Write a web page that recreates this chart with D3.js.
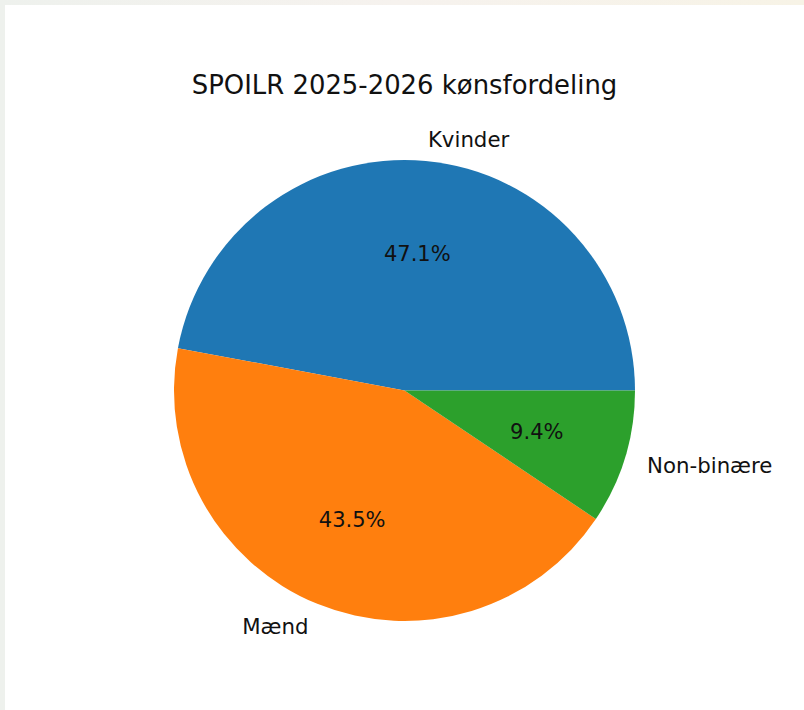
<!DOCTYPE html>
<html>
<head>
<meta charset="utf-8">
<script src="https://cdn.jsdelivr.net/npm/d3@7"></script>
<style>
  html, body { margin: 0; padding: 0; }
  body { width: 804px; height: 710px; overflow: hidden; background: linear-gradient(90deg, #eef1ed 0%, #f6f2ee 50%, #f7f3e6 100%); }
  svg { display: block; }
</style>
</head>
<body>
<svg id="chart" width="804" height="710"></svg>
<script>
const categories = ["Kvinder", "Mænd", "Non-binære"];
const counts = [40, 37, 8];
const colors = ["#1f77b4", "#ff7f0e", "#2ca02c"];
const title = "SPOILR 2025-2026 kønsfordeling";

const svg = d3.select("#chart");
const W = 804, H = 710;
svg.append("rect").attr("x", 5).attr("y", 5).attr("width", W - 5).attr("height", H - 5).attr("fill", "#ffffff");

const cx = 404.5, cy = 390.5, R = 230.5;
const font = "'DejaVu Sans', sans-serif";

svg.append("text")
  .attr("x", cx).attr("y", 94)
  .attr("text-anchor", "middle")
  .attr("font-family", font).attr("font-size", 25.9)
  .attr("fill", "#111")
  .text(title);

const data = categories.map((c, i) => ({ name: c, value: counts[i], color: colors[i] }));
const total = d3.sum(counts);

// matplotlib: counterclockwise starting at 3 o'clock
const pie = d3.pie().value(d => d.value).sort(null)
  .startAngle(Math.PI / 2).endAngle(Math.PI / 2 - 2 * Math.PI);
const arcs = pie(data);
const arc = d3.arc().innerRadius(0).outerRadius(R);

const g = svg.append("g").attr("transform", `translate(${cx},${cy})`);
g.selectAll("path").data(arcs).join("path")
  .attr("d", arc)
  .attr("fill", d => d.data.color);

const pos = (a, r) => [Math.sin(a) * r, -Math.cos(a) * r];

arcs.forEach(d => {
  const mid = (d.startAngle + d.endAngle) / 2;
  const [lx, ly] = pos(mid, 1.1 * R);
  g.append("text")
    .attr("x", lx).attr("y", ly + 1)
    .attr("text-anchor", lx > 0 ? "start" : "end")
    .attr("dominant-baseline", "central")
    .attr("font-family", font).attr("font-size", 21.3)
    .attr("fill", "#111")
    .text(d.data.name);
  const [px, py] = pos(mid, 0.6 * R);
  g.append("text")
    .attr("x", px).attr("y", py + 1)
    .attr("text-anchor", "middle")
    .attr("dominant-baseline", "central")
    .attr("font-family", font).attr("font-size", 21)
    .attr("fill", "#111")
    .text((d.data.value / total * 100).toFixed(1) + "%");
});
</script>
</body>
</html>
